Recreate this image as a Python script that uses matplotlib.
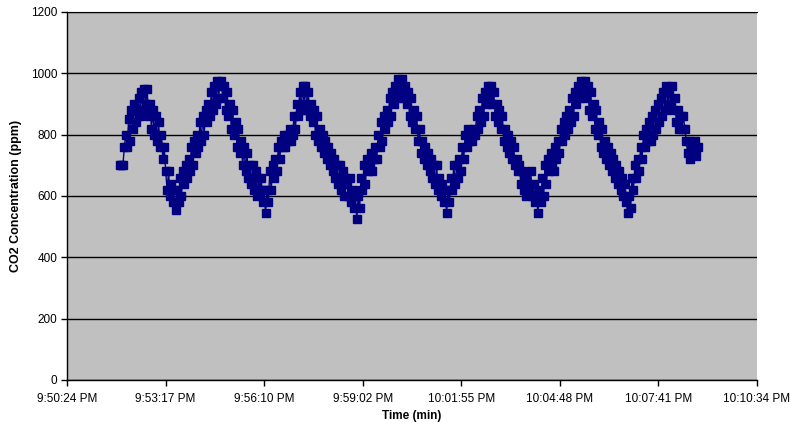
import numpy as np
import matplotlib
matplotlib.use("Agg")
import matplotlib.pyplot as plt
from matplotlib.ticker import FuncFormatter, MultipleLocator

plt.rcParams["font.family"] = ["Liberation Sans", "DejaVu Sans"]

# ======= data =======
start_day = (21 * 3600 + 51 * 60 + 57) / 86400.0   # first sample, 9:51:57 PM
step_s = 2.5                                        # seconds between samples
co2_ppm = [
    # rise to first peak
    700, 700, 700, 760, 800, 760, 850, 780, 880, 820, 900, 840, 880, 920, 860, 940, 880, 950,
    # fall
    900, 950, 860, 900, 820, 880, 800, 860, 780, 840, 760, 800, 720, 760, 680, 620, 680, 600,
    640, 580, 620, 555,
    # rise
    620, 580, 660, 600, 680, 640, 700, 660, 720, 680, 760, 700, 780, 740, 800, 760, 840, 780,
    860, 800, 880, 840, 900, 860, 940, 880, 960, 900, 975, 920, 960, 975,
    # fall
    920, 960, 880, 940, 860, 900, 820, 880, 800, 840, 760, 820, 740, 780, 700, 760, 680, 740,
    660, 700, 640, 700, 620, 680, 600, 660, 620, 660, 580, 620, 545,
    # rise
    620, 580, 680, 620, 700, 660, 720, 680, 760, 720, 780, 760, 800, 760, 800, 780, 820, 780,
    800, 860, 820, 900, 860, 940, 880, 960, 900, 960,
    # fall
    880, 940, 860, 900, 840, 880, 800, 860, 780, 820, 760, 800, 740, 780, 720, 760, 700, 740,
    680, 720, 660, 700, 640, 700, 620, 680, 600, 660, 640, 600, 660, 580, 620, 560, 600, 525,
    # rise
    600, 560, 660, 620, 700, 640, 720, 680, 700, 740, 680, 720, 760, 720, 800, 760, 840, 780,
    860, 820, 880, 840, 920, 860, 940, 900, 960, 920, 980, 940, 960, 980,
    # fall
    920, 960, 900, 940, 860, 920, 840, 880, 820, 860, 780, 820, 740, 780, 720, 760, 700, 740,
    680, 720, 660, 700, 640, 700, 620, 660, 600, 640, 580, 620, 545,
    # rise
    620, 580, 660, 620, 700, 640, 700, 660, 720, 680, 760, 720, 800, 760, 820, 780, 800, 780,
    820, 800, 860, 820, 880, 840, 920, 860, 940, 900, 960, 920,
    # fall
    960, 900, 940, 860, 900, 840, 880, 820, 860, 780, 820, 760, 800, 740, 780, 720, 760, 700,
    720, 680, 700, 640, 680, 620, 660, 600, 640, 620, 680, 600, 640, 580, 600, 545,
    # rise
    620, 580, 660, 600, 700, 640, 720, 680, 740, 700, 680, 760, 720, 780, 740, 820, 780, 840,
    800, 860, 820, 880, 840, 920, 860, 940, 900, 960, 920, 975, 940, 960, 975,
    # fall
    920, 960, 880, 940, 860, 900, 820, 880, 800, 840, 760, 820, 740, 780, 720, 760, 700, 740,
    680, 720, 660, 700, 640, 680, 620, 660, 600, 640, 580, 545,
    # rise
    600, 560, 660, 620, 700, 660, 720, 680, 760, 720, 800, 760, 820, 780, 840, 780, 860, 800,
    880, 820, 900, 840, 920, 860, 940, 880, 960, 900, 940, 900, 960,
    # last drop
    880, 920, 840, 880, 820, 860, 820, 860, 820, 780, 740, 780, 720, 760, 740, 780, 730, 760,
]
t_day = start_day + np.arange(len(co2_ppm)) * step_s / 86400.0

x_min, x_max, x_step = 0.910, 0.924, 0.002


def day_to_clock(v, pos=None):
    s = int(round(v * 86400))
    h, m, sec = s // 3600, (s % 3600) // 60, s % 60
    ampm = "PM" if h >= 12 else "AM"
    h12 = h % 12
    if h12 == 0:
        h12 = 12
    return f"{h12}:{m:02d}:{sec:02d} {ampm}"


# ======= plot =======
fig = plt.figure(figsize=(7.91, 4.26), dpi=100)
ax = fig.add_axes([67 / 791, 46 / 426, 690 / 791, 368 / 426])
ax.set_facecolor("#c0c0c0")

ax.plot(t_day, co2_ppm, color="#000080", lw=1.0, marker="s",
        markersize=5.2, markerfacecolor="#000080", markeredgecolor="#000080",
        zorder=3)

ax.set_xlim(x_min, x_max)
ax.set_ylim(0, 1200)
ax.xaxis.set_major_locator(MultipleLocator(x_step))
ax.xaxis.set_major_formatter(FuncFormatter(day_to_clock))
ax.yaxis.set_major_locator(MultipleLocator(200))
ax.grid(axis="y", color="black", lw=1.0, zorder=1)
ax.set_axisbelow(True)

ax.spines["right"].set_visible(False)
ax.spines["top"].set_color("black")
ax.spines["left"].set_linewidth(1.0)
ax.spines["bottom"].set_linewidth(1.0)

ax.tick_params(axis="both", direction="out", length=4, width=1,
               labelsize=8.5, colors="black", pad=3)
ax.tick_params(axis="x", pad=5)

ax.set_xlabel("Time (min)", fontsize=8.5, fontweight="bold", labelpad=4)
ax.set_ylabel("CO2 Concentration (ppm)", fontsize=9, fontweight="bold",
              labelpad=6)

fig.savefig("out.png", dpi=100)
